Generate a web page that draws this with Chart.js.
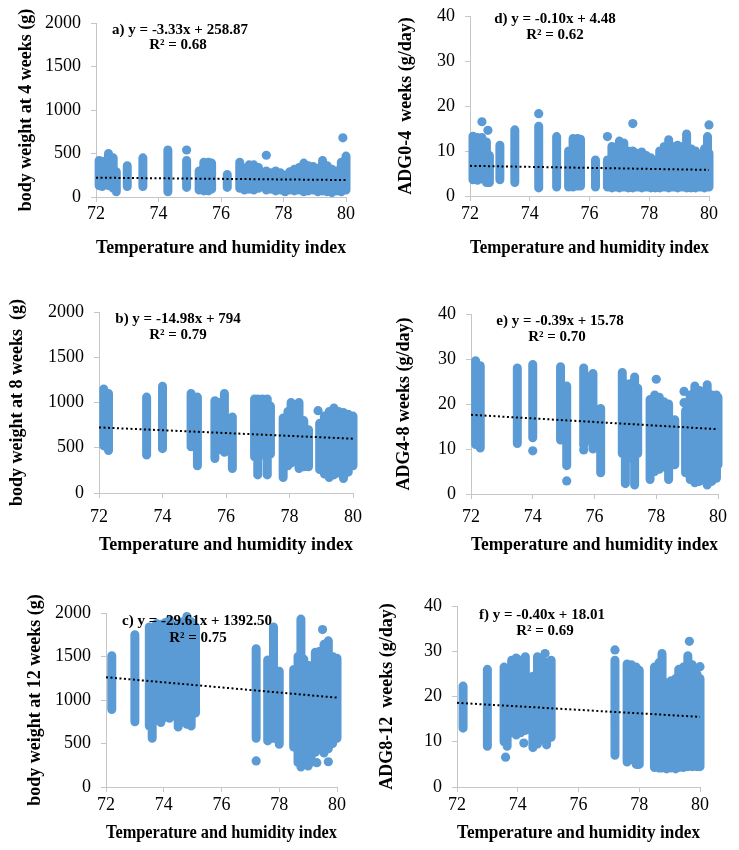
<!DOCTYPE html>
<html>
<head>
<meta charset="utf-8">
<script src="https://cdn.jsdelivr.net/npm/chart.js@4"></script>
<style>
  body { margin: 0; background: #fff; }
  #wrap { position: relative; width: 739px; height: 850px; }
  #wrap canvas { position: absolute; }
</style>
</head>
<body>
<div id="wrap"></div>
<script>
// axis ticks
const thiTicks = [72, 74, 76, 78, 80];
const weightTicks = [0, 500, 1000, 1500, 2000];
const adgTicks = [0, 10, 20, 30, 40];

// each column: [THI, lowest value, highest value]
const bw4Cols = [
  [72.1, 130, 420], [72.2, 120, 410], [72.35, 140, 380], [72.4, 130, 500], [72.55, 100, 450],
  [72.65, 60, 290], [73.0, 120, 360], [73.5, 120, 450], [74.3, 60, 540], [74.9, 110, 420],
  [75.3, 80, 300], [75.45, 70, 400], [75.6, 70, 400], [75.7, 90, 390], [76.2, 110, 260],
  [76.6, 100, 400], [76.75, 80, 330], [76.9, 90, 370], [77.05, 80, 370], [77.2, 100, 340],
  [77.45, 80, 300], [77.6, 90, 280], [77.75, 70, 300], [77.9, 80, 280], [78.05, 60, 250],
  [78.2, 80, 290], [78.35, 70, 320], [78.5, 80, 340], [78.65, 60, 390], [78.8, 70, 360],
  [78.95, 80, 350], [79.1, 60, 330], [79.25, 70, 420], [79.4, 60, 360], [79.55, 50, 320],
  [79.7, 70, 300], [79.85, 60, 400], [80.0, 80, 470]
];
const bw4Single = [[74.9, 540], [77.45, 480], [79.9, 680]];
const bw4Trend = [[72, 222], [80, 195]];

const adg04Cols = [
  [72.1, 3.6, 13.3], [72.25, 3.5, 13.0], [72.4, 3.8, 13.0], [72.55, 3.0, 12.0], [72.65, 3.0, 9.0],
  [73.0, 3.6, 11.3], [73.5, 3.0, 14.7], [74.3, 1.8, 15.5], [74.9, 2.0, 13.2], [75.3, 2.0, 10.0],
  [75.45, 2.0, 12.8], [75.6, 2.2, 12.8], [75.7, 2.2, 12.6], [76.2, 2.0, 8.0], [76.6, 2.0, 8.0],
  [76.75, 1.8, 11.0], [76.9, 2.0, 10.5], [77.0, 1.8, 12.2], [77.15, 2.0, 11.8], [77.3, 1.8, 10.0],
  [77.45, 1.8, 10.0], [77.6, 2.0, 9.5], [77.75, 1.8, 9.8], [77.9, 2.0, 9.0], [78.05, 1.8, 8.5],
  [78.2, 1.8, 8.0], [78.35, 1.8, 10.0], [78.5, 2.0, 11.0], [78.65, 1.8, 12.5], [78.8, 2.0, 11.0],
  [78.95, 1.8, 11.3], [79.1, 2.0, 11.0], [79.25, 1.8, 13.8], [79.4, 1.8, 10.5], [79.55, 1.8, 10.0],
  [79.7, 2.0, 9.0], [79.85, 1.8, 10.5], [79.95, 2.0, 13.2], [80.0, 2.0, 9.5]
];
const adg04Single = [[72.4, 16.5], [72.6, 14.6], [74.3, 18.3], [76.6, 13.2], [77.45, 16.1], [80.0, 15.8]];
const adg04Trend = [[72, 6.7], [80, 5.8]];

const bw8Cols = [
  [72.15, 520, 1150], [72.3, 470, 1100], [73.5, 420, 1060], [74.0, 490, 1180], [74.9, 510, 1100],
  [75.1, 300, 1060], [75.65, 380, 1020], [75.8, 480, 1000], [75.95, 450, 1100], [76.2, 270, 840],
  [76.9, 400, 1040], [77.0, 200, 1040], [77.15, 420, 1040], [77.3, 200, 1040], [77.4, 430, 960],
  [77.8, 170, 830], [77.95, 300, 900], [78.05, 330, 1000], [78.2, 350, 950], [78.3, 270, 1000],
  [78.45, 290, 800], [78.6, 290, 700], [78.95, 260, 770], [79.1, 210, 850], [79.25, 170, 900],
  [79.4, 200, 940], [79.55, 220, 900], [79.7, 160, 890], [79.85, 230, 870], [80.0, 300, 850]
];
const bw8Single = [[78.9, 910]];
const bw8Trend = [[72, 725], [80, 600]];

const adg48Cols = [
  [72.15, 11, 29.6], [72.3, 10.2, 28.5], [73.5, 11.2, 28.0], [74.0, 12.5, 28.8], [74.9, 12.0, 28.3],
  [75.1, 6.3, 24.0], [75.65, 10.8, 28.0], [75.8, 12, 26.0], [75.95, 10.0, 26.8], [76.2, 4.7, 19.0],
  [76.9, 9.0, 27.0], [77.0, 2.3, 24.5], [77.15, 8.0, 24.5], [77.3, 2.0, 26.0], [77.4, 9.0, 23.5],
  [77.8, 3.2, 21.0], [77.95, 5.0, 22.0], [78.1, 5.5, 21.5], [78.25, 6.0, 20.5], [78.4, 3.2, 20.0],
  [78.6, 6.5, 16.5], [78.95, 4.7, 18.5], [79.1, 3.2, 22.0], [79.25, 2.5, 24.0], [79.4, 2.8, 23.0],
  [79.55, 3.5, 22.5], [79.65, 2.0, 24.3], [79.8, 2.8, 22.0], [79.95, 3.5, 22.0], [80.0, 6.5, 21.5]
];
const adg48Single = [[74.0, 9.6], [75.1, 2.9], [75.65, 9.8], [78.0, 25.5], [78.9, 22.8], [78.9, 20.3]];
const adg48Trend = [[72, 17.6], [80, 14.4]];

const bw12Cols = [
  [72.2, 890, 1510], [73.0, 750, 1750], [73.5, 700, 1840], [73.6, 560, 1500], [73.75, 800, 1880],
  [73.9, 740, 1870], [74.05, 800, 1890], [74.2, 790, 1920], [74.35, 850, 1800], [74.5, 690, 1880],
  [74.65, 800, 1900], [74.8, 720, 1960], [74.95, 700, 1900], [75.1, 850, 1840], [77.2, 560, 1590],
  [77.6, 530, 1460], [77.8, 560, 1840], [78.0, 490, 1330], [78.5, 460, 1350], [78.65, 280, 1500],
  [78.75, 230, 1930], [78.85, 300, 1470], [79.0, 240, 1400], [79.1, 280, 1380], [79.25, 400, 1550],
  [79.4, 430, 1560], [79.55, 390, 1640], [79.7, 440, 1680], [79.85, 500, 1500], [80.0, 560, 1480]
];
const bw12Single = [[77.2, 300], [79.5, 1810], [79.3, 280], [79.7, 290]];
const bw12Trend = [[72, 1262], [80, 1027]];

const adg812Cols = [
  [72.2, 13.0, 22.3], [73.0, 9.0, 26.0], [73.55, 10.0, 26.5], [73.65, 9.0, 24.0], [73.8, 12.0, 28.0],
  [73.95, 11.5, 28.5], [74.1, 12.0, 28.0], [74.25, 12.5, 28.8], [74.5, 8.7, 24.5], [74.65, 9.5, 28.8],
  [74.8, 10.5, 28.0], [74.95, 9.3, 27.5], [75.1, 11.0, 28.0], [77.2, 7.0, 28.0], [77.6, 5.5, 27.2],
  [77.75, 6.0, 27.0], [77.9, 5.0, 26.5], [78.0, 5.0, 25.8], [78.5, 4.3, 26.5], [78.65, 4.2, 27.5],
  [78.75, 4.2, 29.5], [78.9, 4.0, 23.0], [79.05, 4.2, 23.5], [79.2, 4.0, 24.0], [79.3, 4.3, 26.0],
  [79.45, 4.3, 26.5], [79.6, 4.5, 29.0], [79.75, 4.5, 27.0], [79.9, 4.5, 25.0], [80.0, 4.5, 24.0]
];
const adg812Single = [[73.6, 6.6], [74.2, 9.7], [74.9, 29.5], [77.2, 30.3], [79.65, 32.2], [80.0, 26.6]];
const adg812Trend = [[72, 18.6], [80, 15.5]];

const BLUE = "#5B9BD5";
const AXIS = "#c6c6c6";
const FONT = "'Liberation Serif', 'Times New Roman', serif";

// page layout for each panel (plot box in page pixels)
const panels = [
  { L: 96, R: 346, T: 23, B: 197, left: 0, yTitleX: 26, xH: 62, xPad: 1,
    yTitle: "body weight at 4 weeks (g)", yTicks: weightTicks,
    cols: bw4Cols, single: bw4Single, trend: bw4Trend,
    eq: ["a) y = -3.33x + 258.87", 180, 30], r2: ["R\u00B2 = 0.68", 178, 45] },
  { L: 470, R: 709, T: 16, B: 196, left: 372, yTitleX: 406, xH: 63, xPad: 2,
    yTitle: "ADG0-4  weeks (g/day)", yTicks: adgTicks,
    cols: adg04Cols, single: adg04Single, trend: adg04Trend,
    eq: ["d) y = -0.10x + 4.48", 555, 19], r2: ["R\u00B2 = 0.62", 555, 35] },
  { L: 99, R: 353, T: 312, B: 493, left: 0, yTitleX: 17, xH: 63, xPad: 8,
    yTitle: "body weight at 8 weeks  (g)", yTicks: weightTicks,
    cols: bw8Cols, single: bw8Single, trend: bw8Trend,
    eq: ["b) y = -14.98x + 794", 178, 319], r2: ["R\u00B2 = 0.79", 178, 335] },
  { L: 471, R: 718, T: 314, B: 494, left: 372, yTitleX: 404, xH: 62, xPad: 7,
    yTitle: "ADG4-8 weeks (g/day)", yTicks: adgTicks,
    cols: adg48Cols, single: adg48Single, trend: adg48Trend,
    eq: ["e) y = -0.39x + 15.78", 560, 321], r2: ["R\u00B2 = 0.70", 557, 337] },
  { L: 106, R: 337, T: 613, B: 787, left: 0, yTitleX: 35, xH: 57, xPad: 2,
    yTitle: "body weight at 12 weeks (g)", yTicks: weightTicks,
    cols: bw12Cols, single: bw12Single, trend: bw12Trend,
    eq: ["c) y = -29.61x + 1392.50", 197, 621], r2: ["R\u00B2 = 0.75", 198, 638] },
  { L: 457, R: 700, T: 606, B: 787, left: 372, yTitleX: 387, xH: 57, xPad: 2,
    yTitle: "ADG8-12  weeks (g/day)", yTicks: adgTicks,
    cols: adg812Cols, single: adg812Single, trend: adg812Trend,
    eq: ["f) y = -0.40x + 18.01", 542, 615], r2: ["R\u00B2 = 0.69", 545, 631] }
];

const wrap = document.getElementById("wrap");

panels.forEach((p) => {
  const padTop = 22, padRight = 20;
  const top = p.T - padTop;
  const canvas = document.createElement("canvas");
  canvas.width = p.R + padRight - p.left;
  canvas.height = p.B + p.xH - top;
  canvas.style.left = p.left + "px";
  canvas.style.top = top + "px";
  wrap.appendChild(canvas);

  // each column becomes a thick round-capped stroke from low to high
  const colData = [];
  p.cols.forEach(([x, lo, hi]) => {
    colData.push({ x: x, y: lo }, { x: x, y: hi }, { x: x, y: null });
  });

  const labelPlugin = {
    id: "eqLabel",
    afterDatasetsDraw(chart) {
      const ctx = chart.ctx;
      ctx.save();
      ctx.fillStyle = "#000";
      ctx.font = "bold 15px " + FONT;
      ctx.textAlign = "center";
      ctx.textBaseline = "middle";
      [p.eq, p.r2].forEach(([txt, x, y]) => ctx.fillText(txt, x - p.left, y - top));
      ctx.restore();
    }
  };

  new Chart(canvas.getContext("2d"), {
    type: "scatter",
    data: {
      datasets: [
        {
          data: p.trend.map(([x, y]) => ({ x, y })),
          showLine: true,
          borderColor: "#000",
          borderWidth: 2,
          borderDash: [2, 2.5],
          pointRadius: 0,
          clip: false
        },
        {
          data: p.single.map(([x, y]) => ({ x, y })),
          backgroundColor: BLUE,
          borderWidth: 0,
          pointRadius: 4.6,
          clip: false
        },
        {
          data: colData,
          showLine: true,
          spanGaps: false,
          borderColor: BLUE,
          borderWidth: 9,
          borderCapStyle: "round",
          pointRadius: 0,
          clip: false
        }
      ]
    },
    options: {
      responsive: false,
      animation: false,
      devicePixelRatio: 1,
      layout: { padding: { top: padTop, right: padRight, left: 0, bottom: 0 } },
      plugins: { legend: { display: false }, tooltip: { enabled: false } },
      scales: {
        x: {
          type: "linear",
          min: thiTicks[0],
          max: thiTicks[thiTicks.length - 1],
          afterBuildTicks: (s) => { s.ticks = thiTicks.map((v) => ({ value: v })); },
          afterFit: (s) => { s.height = p.xH; },
          grid: { drawOnChartArea: false, drawTicks: true, tickLength: 5, color: AXIS },
          border: { display: true, color: AXIS },
          ticks: { color: "#000", padding: p.xPad, maxRotation: 0, callback: (v) => String(v),
                   font: { family: FONT, size: 18 } },
          title: {
            display: true,
            text: "Temperature and humidity index",
            color: "#000",
            padding: 0,
            font: { family: FONT, size: 18, weight: "bold" }
          }
        },
        y: {
          type: "linear",
          min: p.yTicks[0],
          max: p.yTicks[p.yTicks.length - 1],
          afterBuildTicks: (s) => { s.ticks = p.yTicks.map((v) => ({ value: v })); },
          afterFit: (s) => { s.width = p.L - p.left; },
          grid: { drawOnChartArea: false, drawTicks: true, tickLength: 5, color: AXIS },
          border: { display: true, color: AXIS },
          ticks: { color: "#000", padding: 10, callback: (v) => String(v),
                   font: { family: FONT, size: 18 } },
          title: {
            display: true,
            text: p.yTitle,
            color: "#000",
            padding: { top: p.yTitleX - p.left - 10.8, bottom: 0 },
            font: { family: FONT, size: 18, weight: "bold" }
          }
        }
      }
    },
    plugins: [labelPlugin]
  });
});
</script>
</body>
</html>
